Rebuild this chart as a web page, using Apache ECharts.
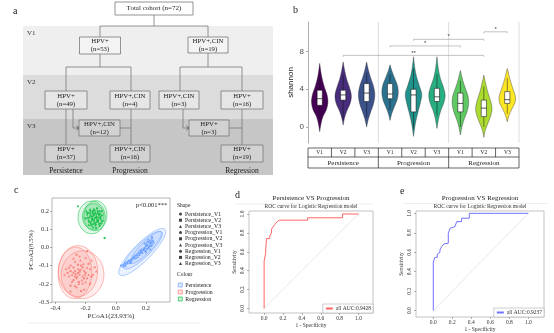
<!DOCTYPE html>
<html><head><meta charset="utf-8">
<script src="https://cdn.jsdelivr.net/npm/echarts@6/dist/echarts.min.js"></script>
<style>html,body{margin:0;padding:0;background:#fff}#main{width:554px;height:333px}</style>
</head><body><div id="main"></div>
<script>
// ===================== data =====================
// (a) cohort flow
const flowNodeLabels = ['Total cohort', 'HPV+', 'HPV+,CIN', 'HPV+', 'HPV+,CIN', 'HPV+,CIN', 'HPV+', 'HPV+,CIN', 'HPV+', 'HPV+', 'HPV+,CIN', 'HPV+'];
const flowNodeCounts = [72, 53, 19, 49, 4, 3, 16, 12, 3, 37, 16, 19];
const visitRows = ['V1', 'V2', 'V3'];
const outcomeLabels = ['Persistence', 'Progression', 'Regression'];

// (b) shannon diversity by outcome and visit
const groupNames = ['Persistence', 'Progression', 'Regression'];
const visitNames = ['V1', 'V2', 'V3'];
const shannonQ1 = [2.3, 2.85, 2.7, 3.0, 1.6, 2.7, 1.6, 1.1, 2.5];
const shannonMedian = [3.0, 3.4, 3.6, 3.5, 3.4, 3.2, 2.5, 2.0, 2.9];
const shannonQ3 = [3.9, 3.9, 4.6, 4.6, 4.0, 4.1, 3.6, 2.85, 3.75];
const shannonLow = [1.0, 0.8, 1.0, 1.8, -0.2, 1.2, 0.0, 0.0, 1.4];
const shannonHigh = [5.3, 5.5, 5.8, 5.6, 6.2, 5.6, 4.9, 4.3, 5.2];
// density outline: [shannon value, relative density]
const shannonDensity = [
  [[-0.5,0],[0.3,0.15],[1.1,0.4],[1.8,0.8],[2.6,1.0],[3.4,0.9],[4.3,0.55],[5.3,0.25],[6.1,0.1],[6.75,0]],
  [[0.2,0],[0.9,0.15],[1.7,0.45],[2.5,0.85],[3.3,1.0],[4.1,0.8],[5.0,0.45],[6.0,0.18],[6.9,0]],
  [[0.0,0],[0.8,0.2],[1.6,0.5],[2.5,0.85],[3.4,1.0],[4.3,0.85],[5.2,0.5],[6.1,0.2],[6.9,0]],
  [[0.7,0],[1.4,0.2],[2.2,0.55],[3.0,0.9],[3.7,1.0],[4.4,0.9],[5.2,0.55],[6.0,0.2],[6.6,0]],
  [[-1.0,0],[-0.2,0.12],[0.7,0.3],[1.6,0.55],[2.6,0.85],[3.5,1.0],[4.4,0.7],[5.4,0.35],[6.5,0.12],[7.45,0]],
  [[-0.15,0],[0.8,0.18],[1.7,0.45],[2.6,0.85],[3.4,1.0],[4.2,0.8],[5.2,0.4],[6.3,0.15],[7.45,0]],
  [[-0.85,0],[0.0,0.18],[0.8,0.45],[1.6,0.8],[2.4,1.0],[3.2,0.95],[4.0,0.65],[4.9,0.3],[6.0,0]],
  [[-1.1,0],[-0.4,0.15],[0.4,0.5],[1.2,0.85],[1.9,1.0],[2.7,0.85],[3.5,0.55],[4.5,0.25],[5.5,0]],
  [[0.55,0],[1.2,0.2],[1.9,0.55],[2.6,0.95],[3.2,1.0],[3.9,0.75],[4.7,0.45],[5.5,0.2],[6.2,0]]
];
// comparisons: [from index, to index, bracket height, significance]
const shannonTests = [[1, 7, 7.6, '**'], [3, 6, 8.6, '*'], [4, 7, 9.3, '*'], [7, 8, 10.1, '*']];

// (c) PCoA coordinates [PCoA1, PCoA2]
const pcoaPersistence = {
  V1: [[0.045,-0.098],[0.06,-0.085],[0.075,-0.08],[0.09,-0.07],[0.11,-0.06],[0.13,-0.045],[0.15,-0.03],[0.17,-0.02],[0.19,-0.005],[0.21,0.01],[0.225,0.02],[0.235,0.03],[0.2,0.005],[0.18,-0.015],[0.215,-0.005],[0.24,0.015],[0.23,0.04],[0.12,-0.05],[0.1,-0.075],[0.16,-0.035]],
  V2: [[0.035,-0.1],[0.055,-0.095],[0.07,-0.09],[0.085,-0.075],[0.105,-0.068],[0.14,-0.04],[0.165,-0.025],[0.185,-0.01],[0.2,0.015],[0.22,0.0],[0.23,0.025],[0.245,0.035],[0.21,0.03],[0.195,-0.02],[0.175,-0.03],[0.125,-0.06],[0.095,-0.085],[0.24,0.05],[0.225,0.008],[0.205,-0.01]],
  V3: [[0.05,-0.105],[0.065,-0.1],[0.08,-0.085],[0.1,-0.08],[0.115,-0.055],[0.135,-0.055],[0.155,-0.04],[0.17,-0.01],[0.19,0.0],[0.205,0.02],[0.22,0.035],[0.235,0.01],[0.25,0.028],[0.215,0.045],[0.19,0.025],[0.16,-0.015],[0.145,-0.05],[0.23,-0.01],[0.2,-0.025],[0.24,0.06]]
};
const pcoaProgression = {
  V1: [[-0.33,-0.12],[-0.3,-0.1],[-0.28,-0.14],[-0.27,-0.08],[-0.26,-0.17],[-0.25,-0.12],[-0.24,-0.15],[-0.23,-0.1],[-0.22,-0.2],[-0.21,-0.13],[-0.2,-0.06],[-0.19,-0.17],[-0.29,-0.19],[-0.31,-0.16],[-0.17,-0.12],[-0.24,-0.05],[-0.26,-0.22],[-0.15,-0.15],[-0.27,-0.13],[-0.22,-0.16]],
  V2: [[-0.32,-0.14],[-0.3,-0.13],[-0.28,-0.11],[-0.27,-0.16],[-0.25,-0.14],[-0.245,-0.19],[-0.235,-0.125],[-0.22,-0.11],[-0.21,-0.17],[-0.2,-0.14],[-0.18,-0.09],[-0.17,-0.2],[-0.26,-0.04],[-0.3,-0.21],[-0.14,-0.11],[-0.23,-0.24],[-0.19,-0.02],[-0.28,-0.18],[-0.16,-0.16],[-0.25,-0.095]],
  V3: [[-0.34,-0.15],[-0.31,-0.11],[-0.29,-0.15],[-0.28,-0.06],[-0.265,-0.145],[-0.255,-0.16],[-0.24,-0.13],[-0.225,-0.18],[-0.215,-0.09],[-0.2,-0.19],[-0.19,-0.11],[-0.18,-0.15],[-0.3,-0.24],[-0.27,-0.21],[-0.13,-0.13],[-0.21,-0.23],[-0.16,-0.07],[-0.235,-0.07],[-0.245,-0.2],[-0.205,-0.15]]
};
const pcoaRegression = {
  V1: [[-0.19,0.18],[-0.18,0.15],[-0.17,0.2],[-0.165,0.13],[-0.16,0.17],[-0.155,0.19],[-0.15,0.15],[-0.145,0.21],[-0.14,0.16],[-0.135,0.12],[-0.13,0.18],[-0.125,0.14],[-0.12,0.2],[-0.115,0.165],[-0.11,0.13],[-0.105,0.185],[-0.1,0.155],[-0.175,0.165],[-0.25,0.226],[-0.15,0.11]],
  V2: [[-0.2,0.16],[-0.185,0.19],[-0.175,0.14],[-0.168,0.175],[-0.158,0.155],[-0.152,0.2],[-0.146,0.175],[-0.14,0.135],[-0.136,0.19],[-0.13,0.165],[-0.124,0.215],[-0.118,0.15],[-0.112,0.18],[-0.108,0.12],[-0.1,0.17],[-0.095,0.2],[-0.09,0.145],[-0.16,0.12],[-0.074,0.052],[-0.13,0.105]],
  V3: [[-0.195,0.2],[-0.185,0.165],[-0.178,0.125],[-0.17,0.19],[-0.162,0.145],[-0.156,0.165],[-0.148,0.185],[-0.142,0.15],[-0.138,0.205],[-0.132,0.13],[-0.127,0.17],[-0.12,0.19],[-0.116,0.145],[-0.11,0.2],[-0.104,0.165],[-0.098,0.135],[-0.092,0.18],[-0.15,0.13],[-0.17,0.21],[-0.125,0.155]]
};
// confidence ellipses per visit: [centre x, centre y, axis1 x, axis1 y, axis2 x, axis2 y]
const ellipsePersistence = [[0.175,-0.025,0.15,0.125,-0.04,0.035],[0.2,0.0,0.1,0.085,-0.025,0.022],[0.18,-0.015,0.125,0.1,-0.032,0.028]];
const ellipseProgression = [[-0.25,-0.13,0.13,0.0,0.0,0.14],[-0.22,-0.15,0.14,0.02,-0.02,0.13],[-0.27,-0.14,0.11,-0.02,0.02,0.14]];
const ellipseRegression = [[-0.16,0.165,0.09,0.0,0.0,0.09],[-0.135,0.175,0.075,0.02,-0.015,0.08],[-0.15,0.17,0.07,-0.01,0.01,0.07]];
const pcoaTest = 'p<0.001***';

// (d, e) ROC curves [1 - specificity, sensitivity]
const rocPersistenceProgression = [[0,0],[0,0.5],[0.015,0.5],[0.015,0.58],[0.025,0.58],[0.025,0.74],[0.06,0.74],[0.06,0.77],[0.078,0.8],[0.078,0.84],[0.095,0.86],[0.113,0.89],[0.138,0.92],[0.16,0.935],[0.46,0.935],[0.46,0.96],[0.83,0.96],[0.83,1.0],[1,1]];
const rocProgressionRegression = [[0,0],[0,0.5],[0.017,0.5],[0.017,0.548],[0.042,0.548],[0.042,0.58],[0.07,0.6],[0.07,0.624],[0.088,0.658],[0.112,0.686],[0.158,0.693],[0.158,0.795],[0.176,0.795],[0.176,0.846],[0.228,0.863],[0.246,0.915],[0.298,0.915],[0.298,0.95],[0.379,0.95],[0.379,1.0],[1,1]];
const aucPersistenceProgression = 0.9428;
const aucProgressionRegression = 0.9237;
const rocTicks = [0, 0.2, 0.4, 0.6, 0.8, 1.0];

// ===================== layout & style =====================
const SERIF = '"Liberation Serif", "Times New Roman", serif';
const SANS = '"Liberation Sans", Arial, sans-serif';
const violinColors = ['#440154', '#472d7b', '#3b528b', '#2c728e', '#21918c', '#28ae80', '#5ec962', '#addc30', '#fde725'];
const groupColors = { Persistence: '#619CFF', Progression: '#F8766D', Regression: '#00BA38' };
const visitSymbols = { V1: 'circle', V2: 'rect', V3: 'triangle' };

// flow-diagram layout units (x right, y down)
const flowBoxes = [
  [154, 8.5, 78, 13], [100, 45.5, 41, 17], [208, 45, 40, 16],
  [66, 100, 42, 18], [130, 100, 40, 18], [179, 100, 40, 18], [242, 100, 42, 18],
  [99.5, 128, 41, 16], [209, 128, 40, 16],
  [66, 153.5, 42, 17], [130, 153.5, 40, 17], [242, 153.5, 42, 17]
];
const flowLinks = [
  [[154, 15], [154, 26]], [[100, 37], [100, 26], [208, 26], [208, 37]],
  [[100, 54], [100, 67]], [[66, 91], [66, 67], [131, 67], [131, 91]],
  [[208, 53], [208, 67]], [[180, 91], [180, 67], [242, 67], [242, 91]],
  [[66, 109], [66, 145]], [[131, 109], [131, 145]], [[120, 128], [131, 128]],
  [[242, 109], [242, 145]], [[229, 128], [242, 128]]
];
const flowArrows = [[[73, 109], [73, 128], [79, 128]], [[183, 109], [183, 128], [189, 128]]];
const flowBands = [[23, 26, 273, 75], [23, 75, 273, 119], [23, 119, 273, 175]];
const flowBandFills = ['#efefef', '#dcdcdc', '#c6c6c6'];
const flowBoxFills = ['#ffffff', '#f4f4f4', '#f4f4f4', '#e6e6e6', '#e6e6e6', '#e6e6e6', '#e6e6e6', '#d2d2d2', '#d2d2d2', '#d2d2d2', '#d2d2d2', '#d2d2d2'];
const outcomeColumns = [66, 130, 242];

function txt(text, x, y, size, family, opt) {
  return { type: 'text', style: Object.assign({ text, x, y, fontSize: size, fontFamily: family, fill: '#222', align: 'center', verticalAlign: 'middle' }, opt || {}) };
}

function renderFlow(params, api) {
  const P = (x, y) => api.coord([x, y]);
  const ch = [];
  flowBands.forEach((b, k) => {
    const p0 = P(b[0], b[1]), p1 = P(b[2], b[3]);
    ch.push({ type: 'rect', shape: { x: p0[0], y: p0[1], width: p1[0] - p0[0], height: p1[1] - p0[1] }, style: { fill: flowBandFills[k] } });
    const lp = P(b[0] + 4, b[1] + 7);
    ch.push(txt(visitRows[k], lp[0], lp[1], 7, SERIF, { align: 'left', fill: '#333' }));
  });
  const lineStyle = { stroke: '#7a7a7a', lineWidth: 0.8, fill: null };
  flowLinks.forEach(l => ch.push({ type: 'polyline', shape: { points: l.map(p => P(p[0], p[1])) }, style: lineStyle }));
  flowArrows.forEach(l => {
    const pts = l.map(p => P(p[0], p[1]));
    ch.push({ type: 'polyline', shape: { points: pts }, style: lineStyle });
    const e = pts[pts.length - 1];
    ch.push({ type: 'polyline', shape: { points: [[e[0] - 2.5, e[1] - 2], e, [e[0] - 2.5, e[1] + 2]] }, style: { stroke: '#444', lineWidth: 0.8, fill: null } });
  });
  flowBoxes.forEach((b, k) => {
    const p0 = P(b[0] - b[2] / 2, b[1] - b[3] / 2), p1 = P(b[0] + b[2] / 2, b[1] + b[3] / 2);
    ch.push({ type: 'rect', shape: { x: p0[0], y: p0[1], width: p1[0] - p0[0], height: p1[1] - p0[1] }, style: { fill: flowBoxFills[k], stroke: '#7a7a7a', lineWidth: 0.8 } });
    const c = P(b[0], b[1]);
    if (k === 0) {
      ch.push(txt(flowNodeLabels[k] + ' (n=' + flowNodeCounts[k] + ')', c[0], c[1], 7, SERIF));
    } else {
      ch.push(txt(flowNodeLabels[k], c[0], c[1] - 4, 6.8, SERIF));
      ch.push(txt('(n=' + flowNodeCounts[k] + ')', c[0], c[1] + 4, 6.8, SERIF));
    }
  });
  outcomeLabels.forEach((t, k) => {
    const p = P(outcomeColumns[k], 171.5);
    ch.push(txt(t, p[0], p[1], 7.5, SERIF));
  });
  return { type: 'group', children: ch };
}

function renderViolin(params, api) {
  const i = api.value(0);
  const bw = api.size([1, 0])[0];
  const maxHalf = bw * 0.35;
  const right = [], left = [];
  shannonDensity[i].forEach(([v, d]) => {
    const c = api.coord([i, v]);
    right.push([c[0] + d * maxHalf, c[1]]);
    left.push([c[0] - d * maxHalf, c[1]]);
  });
  const pts = right.concat(left.reverse());
  const x = api.coord([i, 0])[0];
  const yq1 = api.coord([i, shannonQ1[i]])[1], yq3 = api.coord([i, shannonQ3[i]])[1];
  const ym = api.coord([i, shannonMedian[i]])[1];
  const ylo = api.coord([i, shannonLow[i]])[1], yhi = api.coord([i, shannonHigh[i]])[1];
  const hb = 2.6;
  return { type: 'group', children: [
    { type: 'polygon', shape: { points: pts, smooth: 0.35 }, style: { fill: violinColors[i], stroke: '#333', lineWidth: 0.4 } },
    { type: 'line', shape: { x1: x, y1: ylo, x2: x, y2: yq1 }, style: { stroke: '#111', lineWidth: 0.5 } },
    { type: 'line', shape: { x1: x, y1: yq3, x2: x, y2: yhi }, style: { stroke: '#111', lineWidth: 0.5 } },
    { type: 'rect', shape: { x: x - hb, y: yq3, width: hb * 2, height: yq1 - yq3 }, style: { fill: '#fff', stroke: '#111', lineWidth: 0.55 } },
    { type: 'line', shape: { x1: x - hb, y1: ym, x2: x + hb, y2: ym }, style: { stroke: '#111', lineWidth: 0.7 } }
  ] };
}

function renderTests(params, api) {
  const a = api.value(0), b = api.value(1), h = api.value(2);
  const t = shannonTests[params.dataIndex][3];
  const p0 = api.coord([a, h]), p1 = api.coord([b, h]);
  return { type: 'group', children: [
    { type: 'polyline', shape: { points: [[p0[0], p0[1] + 1.5], p0, p1, [p1[0], p1[1] + 1.5]] }, style: { stroke: '#9a9a9a', lineWidth: 0.6, fill: null } },
    txt(t, (p0[0] + p1[0]) / 2, p0[1] - 2.5, 6, SANS, { fill: '#444' })
  ] };
}

function renderStrips(params, api) {
  const ch = [];
  const bw = api.size([1, 0])[0];
  const yTop = api.coord([0, 11.14])[1];
  const yBot = api.coord([0, -1.7])[1];
  const xL = api.coord([0, 0])[0] - bw / 2;
  const xR = api.coord([8, 0])[0] + bw / 2;
  // facet separators and right border
  [2, 5, 8].forEach(k => {
    const xs = api.coord([k, 0])[0] + bw / 2;
    ch.push({ type: 'line', shape: { x1: xs, y1: yTop, x2: xs, y2: yBot }, style: { stroke: '#cfcfcf', lineWidth: 0.7 } });
  });
  const r1 = yBot + 5, r2 = r1 + 9, r3 = r2 + 11;
  ch.push({ type: 'rect', shape: { x: xL, y: r1, width: xR - xL, height: r3 - r1 }, style: { fill: '#fff', stroke: '#222', lineWidth: 0.7 } });
  ch.push({ type: 'line', shape: { x1: xL, y1: r2, x2: xR, y2: r2 }, style: { stroke: '#222', lineWidth: 0.7 } });
  for (let k = 0; k < 9; k++) {
    const cx = api.coord([k, 0])[0];
    if (k > 0) ch.push({ type: 'line', shape: { x1: cx - bw / 2, y1: r1, x2: cx - bw / 2, y2: r2 }, style: { stroke: '#222', lineWidth: 0.7 } });
    ch.push(txt(visitNames[k % 3], cx, (r1 + r2) / 2 + 0.5, 5.5, SERIF));
  }
  for (let g = 0; g < 3; g++) {
    const cx = api.coord([g * 3 + 1, 0])[0];
    if (g > 0) ch.push({ type: 'line', shape: { x1: cx - 1.5 * bw, y1: r2, x2: cx - 1.5 * bw, y2: r3 }, style: { stroke: '#222', lineWidth: 0.7 } });
    ch.push(txt(groupNames[g], cx, (r2 + r3) / 2 + 0.5, 7, SERIF));
  }
  return { type: 'group', children: ch };
}

function ellipseRenderer(color) {
  return function (params, api) {
    const cx = api.value(0), cy = api.value(1), ux = api.value(2), uy = api.value(3), vx = api.value(4), vy = api.value(5);
    const pts = [];
    for (let k = 0; k < 72; k++) {
      const t = k / 72 * Math.PI * 2;
      pts.push(api.coord([cx + ux * Math.cos(t) + vx * Math.sin(t), cy + uy * Math.cos(t) + vy * Math.sin(t)]));
    }
    return { type: 'polygon', shape: { points: pts }, style: { fill: echarts.color.modifyAlpha(color, 0.13), stroke: color, lineWidth: 0.5 } };
  };
}

// ===================== option =====================
const pcoaGroups = { Persistence: pcoaPersistence, Progression: pcoaProgression, Regression: pcoaRegression };
const ellipseGroups = { Persistence: ellipsePersistence, Progression: ellipseProgression, Regression: ellipseRegression };
const scatterSeries = [];
const shapeLegend = [];
groupNames.forEach(g => visitNames.forEach(v => {
  const name = g + '_' + v;
  shapeLegend.push({ name, itemStyle: { color: '#111', borderWidth: 0 } });
  scatterSeries.push({
    type: 'scatter', name, xAxisIndex: 2, yAxisIndex: 2, data: pcoaGroups[g][v],
    symbol: visitSymbols[v], symbolSize: v === 'V3' ? 2.6 : 2.1, itemStyle: { color: groupColors[g] }, z: 4
  });
}));
const ellipseSeries = groupNames.map(g => ({
  type: 'custom', name: g, xAxisIndex: 2, yAxisIndex: 2, data: ellipseGroups[g],
  renderItem: ellipseRenderer(groupColors[g]), itemStyle: { color: groupColors[g] }, z: 3, clip: true
}));

const fmt1 = v => v.toFixed(1);
function rocAxes(gridIndex, xMin, xMax, yMin, yMax) {
  const common = { type: 'value', gridIndex, axisLine: { show: false, onZero: false }, splitLine: { show: false },
    axisTick: { show: true, length: 2, customValues: rocTicks, lineStyle: { color: '#666', width: 0.5 } },
    nameLocation: 'middle', nameTextStyle: { fontFamily: SERIF, fontSize: 5.5, color: '#333' } };
  return {
    x: Object.assign({}, common, { min: xMin, max: xMax, name: '1 - Specificity', nameGap: 9,
      axisLabel: { customValues: rocTicks, formatter: fmt1, fontFamily: SERIF, fontSize: 5.5, color: '#333', margin: 3 } }),
    y: Object.assign({}, common, { min: yMin, max: yMax, name: 'Sensitivity', nameGap: 11, nameRotate: 90,
      axisLabel: { customValues: rocTicks, formatter: fmt1, fontFamily: SERIF, fontSize: 5.5, color: '#333', margin: 3, rotate: 90 } })
  };
}
const rocD = rocAxes(3, -0.16, 1.153, -0.047, 1.032);
const rocE = rocAxes(4, -0.182, 1.165, -0.065, 1.024);
const nameD = 'all AUC:' + aucPersistenceProgression;
const nameE = 'all AUC:' + aucProgressionRegression;

const option = {
  animation: false,
  backgroundColor: '#fff',
  textStyle: { fontFamily: SERIF },
  title: [
    { text: 'a', left: 8, top: 1, textStyle: { fontFamily: SERIF, fontSize: 10, fontWeight: 'normal', color: '#222' } },
    { text: 'b', left: 288, top: 0, textStyle: { fontFamily: SERIF, fontSize: 10, fontWeight: 'normal', color: '#222' } },
    { text: 'c', left: 9, top: 180, textStyle: { fontFamily: SERIF, fontSize: 10, fontWeight: 'normal', color: '#222' } },
    { text: 'd', left: 230, top: 185, textStyle: { fontFamily: SERIF, fontSize: 10, fontWeight: 'normal', color: '#222' } },
    { text: 'e', left: 395, top: 181, textStyle: { fontFamily: SERIF, fontSize: 10, fontWeight: 'normal', color: '#222' } },
    { text: pcoaTest, left: 131, top: 197, textStyle: { fontFamily: SERIF, fontSize: 6.5, fontWeight: 'normal', color: '#222' } },
    { text: 'Shape', left: 177, top: 203, padding: 0, textStyle: { fontFamily: SERIF, fontSize: 5.5, fontWeight: 'normal', color: '#222' } },
    { text: 'Colour', left: 177, top: 272, padding: 0, textStyle: { fontFamily: SERIF, fontSize: 5.5, fontWeight: 'normal', color: '#222' } },
    { text: 'Persistence VS Progression', subtext: 'ROC curve for Logistic Regression model', left: 311, top: 195, textAlign: 'center', itemGap: 2, padding: 0,
      textStyle: { fontFamily: SERIF, fontSize: 7, fontWeight: 'normal', color: '#222' }, subtextStyle: { fontFamily: SERIF, fontSize: 5.5, color: '#333' } },
    { text: 'Progression VS Regression', subtext: 'ROC curve for Logistic Regression model', left: 480, top: 195, textAlign: 'center', itemGap: 2, padding: 0,
      textStyle: { fontFamily: SERIF, fontSize: 7, fontWeight: 'normal', color: '#222' }, subtextStyle: { fontFamily: SERIF, fontSize: 5.5, color: '#333' } }
  ],
  legend: [
    { left: 179, top: 211, orient: 'vertical', data: shapeLegend, itemWidth: 3, itemHeight: 3, itemGap: 0.2, padding: 0, selectedMode: false,
      textStyle: { fontFamily: SERIF, fontSize: 5.8, lineHeight: 6, color: '#222', padding: [0, 0, 0, -2] } },
    { left: 178, top: 282, orient: 'vertical', selectedMode: false, itemWidth: 4, itemHeight: 4, itemGap: 1, padding: 0,
      data: groupNames.map(g => ({ name: g, icon: 'rect', itemStyle: { color: echarts.color.modifyAlpha(groupColors[g], 0.2), borderColor: groupColors[g], borderWidth: 0.6 } })),
      textStyle: { fontFamily: SERIF, fontSize: 5.8, lineHeight: 5, color: '#222', padding: [0, 0, 0, -2] } },
    { right: 181, bottom: 20, data: [nameD], selectedMode: false, itemWidth: 7, itemHeight: 1, padding: [1.5, 2, 1.5, 2], borderColor: '#999', borderWidth: 0.5, borderRadius: 0, backgroundColor: '#fff',
      textStyle: { fontFamily: SERIF, fontSize: 5.5, color: '#333', padding: [0, 0, 0, -2] } },
    { right: 10, bottom: 16, data: [nameE], selectedMode: false, itemWidth: 7, itemHeight: 1, padding: [1.5, 2, 1.5, 2], borderColor: '#999', borderWidth: 0.5, borderRadius: 0, backgroundColor: '#fff',
      textStyle: { fontFamily: SERIF, fontSize: 5.5, color: '#333', padding: [0, 0, 0, -2] } }
  ],
  grid: [
    { left: 0, top: 0, width: 290, height: 180, outerBoundsMode: 'none' },
    { left: 308, top: 22, width: 211, height: 121, outerBoundsMode: 'none' },
    { left: 52, top: 198, width: 118, height: 104, show: true, borderColor: '#9a9a9a', borderWidth: 0.7, outerBoundsMode: 'none' },
    { left: 249, top: 211, width: 124, height: 102, show: true, borderColor: '#aaa', borderWidth: 0.7, outerBoundsMode: 'none' },
    { left: 416, top: 211, width: 128, height: 106, show: true, borderColor: '#aaa', borderWidth: 0.7, outerBoundsMode: 'none' }
  ],
  xAxis: [
    { type: 'value', gridIndex: 0, min: 0, max: 290, show: false },
    { type: 'category', gridIndex: 1, data: groupNames.flatMap(g => visitNames.map(v => g + ' ' + v)), show: false },
    { type: 'value', gridIndex: 2, min: -0.4225, max: 0.359, splitLine: { show: false }, axisLine: { show: false, onZero: false },
      axisTick: { customValues: [-0.4, -0.2, 0, 0.2], length: 2, lineStyle: { color: '#555', width: 0.5 } },
      axisLabel: { customValues: [-0.4, -0.2, 0, 0.2], formatter: fmt1, fontFamily: SERIF, fontSize: 6.5, color: '#333', margin: 3 },
      name: 'PCoA1(23.93%)', nameLocation: 'middle', nameGap: 11, nameTextStyle: { fontFamily: SERIF, fontSize: 7, color: '#333' } },
    rocD.x, rocE.x
  ],
  yAxis: [
    { type: 'value', gridIndex: 0, min: 0, max: 180, inverse: true, show: false },
    { type: 'value', gridIndex: 1, min: -1.7, max: 11.14, splitLine: { show: false },
      axisLine: { show: true, onZero: false, lineStyle: { color: '#777', width: 0.6 } },
      axisTick: { show: true, length: 2, customValues: [0, 4, 8], lineStyle: { color: '#777', width: 0.6 } },
      axisLabel: { customValues: [0, 4, 8], fontFamily: SANS, fontSize: 8, color: '#4d4d4d', margin: 4 },
      name: 'shannon', nameLocation: 'middle', nameGap: 13, nameRotate: 90, nameTextStyle: { fontFamily: SANS, fontSize: 8, color: '#222' } },
    { type: 'value', gridIndex: 2, min: -0.3, max: 0.272, splitLine: { show: false }, axisLine: { show: false, onZero: false },
      axisTick: { customValues: [-0.3, -0.2, -0.1, 0, 0.1, 0.2], length: 2, lineStyle: { color: '#555', width: 0.5 } },
      axisLabel: { customValues: [-0.3, -0.2, -0.1, 0, 0.1, 0.2], formatter: fmt1, fontFamily: SERIF, fontSize: 6.5, color: '#333', margin: 3 },
      name: 'PCoA2(8.5%)', nameLocation: 'middle', nameGap: 17, nameRotate: 90, nameTextStyle: { fontFamily: SERIF, fontSize: 7, color: '#333' } },
    rocD.y, rocE.y
  ],
  series: [
    { type: 'custom', xAxisIndex: 0, yAxisIndex: 0, data: [[0, 0]], renderItem: renderFlow, silent: true },
    { type: 'custom', xAxisIndex: 1, yAxisIndex: 1, data: [[0]], renderItem: renderStrips, clip: false, z: 1 },
    { type: 'custom', xAxisIndex: 1, yAxisIndex: 1, data: shannonMedian.map((m, i) => [i]), renderItem: renderViolin, z: 2 },
    { type: 'custom', xAxisIndex: 1, yAxisIndex: 1, data: shannonTests.map(t => [t[0], t[1], t[2]]), renderItem: renderTests, clip: false, z: 2 },
    ...ellipseSeries,
    ...scatterSeries,
    { type: 'line', xAxisIndex: 3, yAxisIndex: 3, data: [[0, 0], [1, 1]], symbol: 'none', lineStyle: { color: '#dddddd', width: 0.7 }, silent: true },
    { type: 'line', name: nameD, xAxisIndex: 3, yAxisIndex: 3, data: rocPersistenceProgression, symbol: 'none', itemStyle: { color: '#ff6666' }, lineStyle: { color: '#ff6666', width: 1 } },
    { type: 'line', xAxisIndex: 4, yAxisIndex: 4, data: [[0, 0], [1, 1]], symbol: 'none', lineStyle: { color: '#dddddd', width: 0.7 }, silent: true },
    { type: 'line', name: nameE, xAxisIndex: 4, yAxisIndex: 4, data: rocProgressionRegression, symbol: 'none', itemStyle: { color: '#7373ff' }, lineStyle: { color: '#7373ff', width: 1 } }
  ],
  graphic: [
    { type: 'line', shape: { x1: 28, y1: 323, x2: 200, y2: 323 }, style: { stroke: '#ececec', lineWidth: 1 }, silent: true },
    { type: 'line', shape: { x1: 235, y1: 204, x2: 373, y2: 204 }, style: { stroke: '#eeeeee', lineWidth: 1 }, silent: true },
    { type: 'line', shape: { x1: 403, y1: 203.5, x2: 547, y2: 203.5 }, style: { stroke: '#eeeeee', lineWidth: 1 }, silent: true }
  ]
};

const chart = echarts.init(document.getElementById('main'), null, { renderer: 'canvas', width: 554, height: 333 });
chart.setOption(option);
</script>
</body></html>
